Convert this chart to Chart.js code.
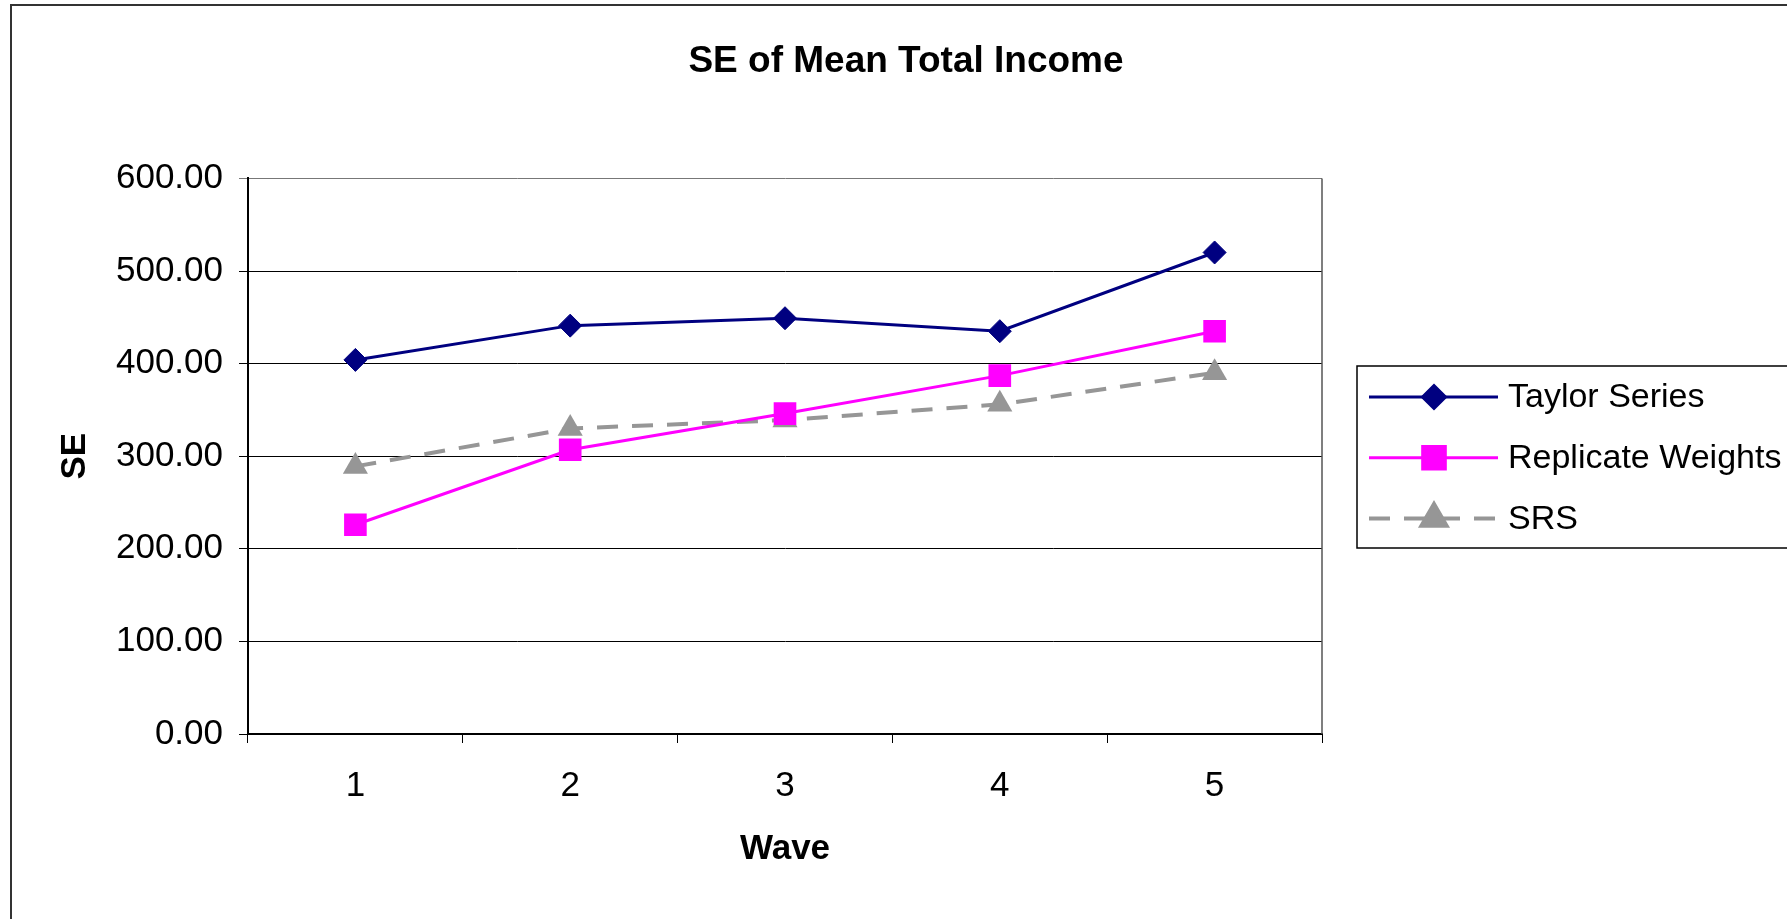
<!DOCTYPE html>
<html>
<head>
<meta charset="utf-8">
<title>SE of Mean Total Income</title>
<script src="https://cdn.jsdelivr.net/npm/chart.js@4.4.1/dist/chart.umd.min.js"></script>
<style>
  html, body { margin: 0; padding: 0; background: #fff; }
  canvas { display: block; }
</style>
</head>
<body>
<canvas id="se-chart" width="1787" height="919"></canvas>
<script>
const waves = ['1', '2', '3', '4', '5']
const taylorSeries = [404, 441, 449, 435, 520]
const replicateWeights = [226, 307, 346, 387, 435]
const srs = [289, 330, 339, 356, 390]
const yTicks = [0, 100, 200, 300, 400, 500, 600]

const FONT = "'Liberation Sans', Arial, sans-serif"

// white page, outer frame and the plot's right edge
const framePlugin = {
    id: 'frame',
    beforeDraw(chart) {
        const ctx = chart.ctx
        ctx.save()
        ctx.fillStyle = '#fff'
        ctx.fillRect(0, 0, chart.width, chart.height)
        ctx.strokeStyle = '#333'
        ctx.lineWidth = 2
        ctx.beginPath()
        ctx.moveTo(11, chart.height)
        ctx.lineTo(11, 5)
        ctx.lineTo(chart.width, 5)
        ctx.stroke()
        ctx.restore()
    },
    beforeDatasetsDraw(chart) {
        const a = chart.chartArea
        const ctx = chart.ctx
        ctx.save()
        ctx.strokeStyle = '#555'
        ctx.lineWidth = 1.5
        ctx.beginPath()
        ctx.moveTo(a.right, a.top)
        ctx.lineTo(a.right, a.bottom)
        ctx.stroke()
        ctx.restore()
    }
}

// boxed legend to the right of the plot
const boxLegend = {
    id: 'boxLegend',
    afterDraw(chart) {
        const ctx = chart.ctx
        const left = 1357, top = 366, bottom = 548
        ctx.save()
        ctx.strokeStyle = '#000'
        ctx.lineWidth = 1.5
        ctx.strokeRect(left, top, chart.width - left + 10, bottom - top)
        chart.data.datasets.forEach((ds, i) => {
            const y = 397 + i * 60.7
            ctx.strokeStyle = ds.borderColor
            ctx.lineWidth = ds.borderWidth
            ctx.setLineDash(ds.borderDash || [])
            ctx.beginPath()
            ctx.moveTo(1369, y)
            ctx.lineTo(1498, y)
            ctx.stroke()
            ctx.setLineDash([])
            ctx.fillStyle = ds.pointBackgroundColor
            ctx.strokeStyle = ds.pointBackgroundColor
            Chart.helpers.drawPoint(ctx, {
                pointStyle: ds.pointStyle,
                radius: ds.pointRadius,
                rotation: 0,
                borderWidth: 1
            }, 1434, y)
            ctx.fillStyle = '#000'
            ctx.font = '34px ' + FONT
            ctx.textBaseline = 'middle'
            ctx.textAlign = 'left'
            ctx.fillText(ds.label, 1508, y + 1)
        })
        ctx.restore()
    }
}

new Chart(document.getElementById('se-chart'), {
    type: 'line',
    data: {
        labels: waves,
        datasets: [{
            label: 'Taylor Series',
            data: taylorSeries,
            borderColor: '#000080',
            borderWidth: 3,
            pointStyle: 'rectRot',
            pointRadius: 11.5,
            pointHoverRadius: 11.5,
            pointBackgroundColor: '#000080',
            pointBorderColor: '#000080',
            pointBorderWidth: 1
        }, {
            label: 'Replicate Weights',
            data: replicateWeights,
            borderColor: '#ff00ff',
            borderWidth: 3,
            pointStyle: 'rect',
            pointRadius: 16,
            pointHoverRadius: 16,
            pointBackgroundColor: '#ff00ff',
            pointBorderColor: '#ff00ff',
            pointBorderWidth: 0
        }, {
            label: 'SRS',
            data: srs,
            borderColor: '#969696',
            borderWidth: 4,
            borderDash: [21, 14],
            pointStyle: 'triangle',
            pointRadius: 14.5,
            pointHoverRadius: 14.5,
            pointBackgroundColor: '#969696',
            pointBorderColor: '#969696',
            pointBorderWidth: 0
        }]
    },
    options: {
        responsive: false,
        animation: false,
        layout: { padding: { left: 25, top: 0, right: 0, bottom: 0 } },
        plugins: {
            legend: { display: false },
            tooltip: { enabled: false },
            title: {
                display: true,
                text: 'SE of Mean Total Income',
                color: '#000',
                font: { family: FONT, size: 37, weight: 'bold' },
                padding: { top: 40, bottom: 94 }
            }
        },
        scales: {
            x: {
                offset: true,
                grid: {
                    offset: true,
                    drawOnChartArea: false,
                    color: '#000',
                    tickLength: 9
                },
                border: { color: '#000', width: 2 },
                ticks: {
                    color: '#000',
                    padding: 22,
                    font: { family: FONT, size: 35 }
                },
                title: {
                    display: true,
                    text: 'Wave',
                    color: '#000',
                    font: { family: FONT, size: 35, weight: 'bold' },
                    padding: { top: 0, bottom: 49 }
                },
                afterFit(scale) { scale.height = 185 }
            },
            y: {
                min: yTicks[0],
                max: yTicks[yTicks.length - 1],
                afterBuildTicks(scale) { scale.ticks = yTicks.map(v => ({ value: v })) },
                grid: {
                    color: ctx => ctx.tick && ctx.tick.value === 600 ? '#777' : '#000',
                    lineWidth: 1,
                    tickLength: 9
                },
                border: { color: '#000', width: 2 },
                ticks: {
                    color: '#000',
                    padding: 16,
                    font: { family: FONT, size: 35 },
                    callback: v => v.toFixed(2)
                },
                title: {
                    display: true,
                    text: 'SE',
                    color: '#000',
                    font: { family: FONT, size: 35, weight: 'bold' },
                    padding: { top: 29, bottom: 0 }
                },
                afterFit(scale) { scale.width = 223 }
            },
            // empty space on the right that holds the legend
            legendSpace: {
                type: 'linear',
                position: 'right',
                display: true,
                grid: { display: false },
                border: { display: false },
                ticks: { display: false },
                afterFit(scale) { scale.width = 465 }
            }
        }
    },
    plugins: [framePlugin, boxLegend]
})
</script>
</body>
</html>
